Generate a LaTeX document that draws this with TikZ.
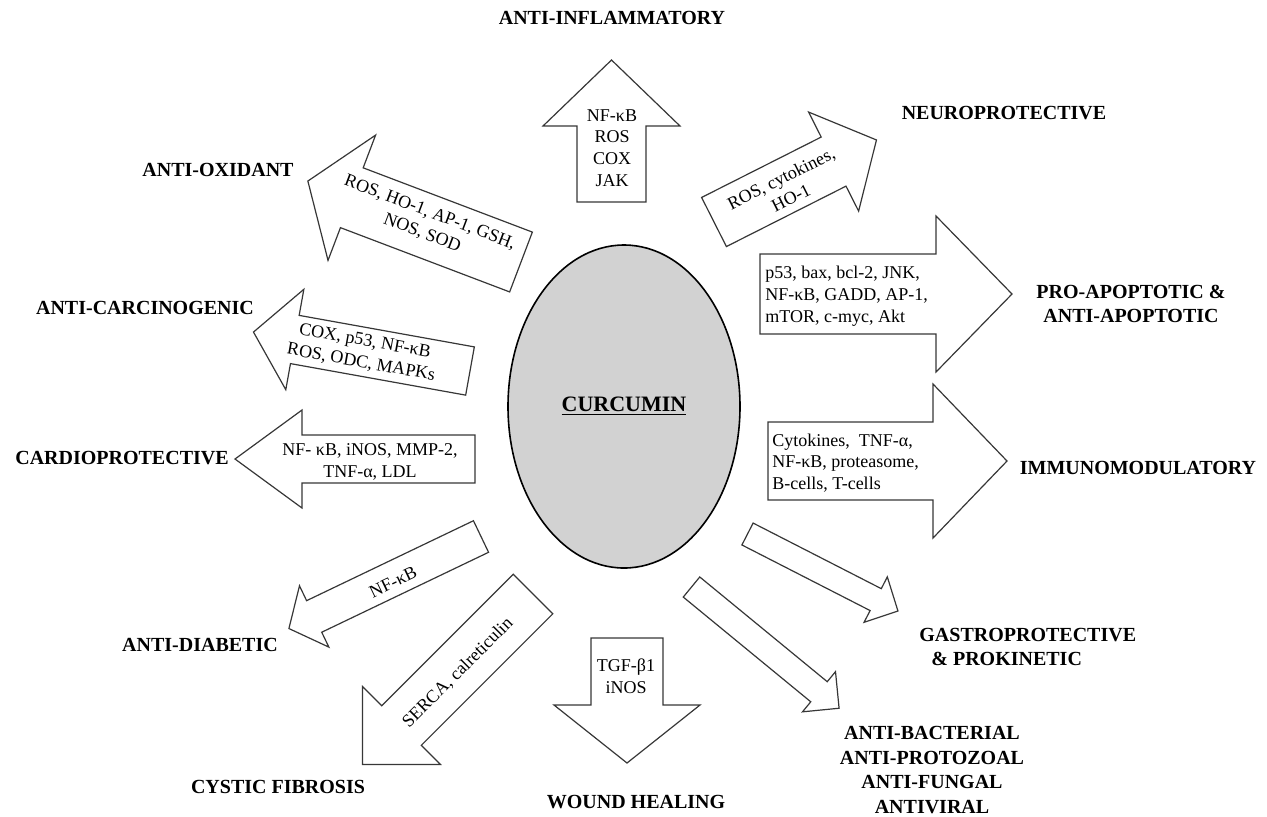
\documentclass[tikz,border=0pt]{standalone}
\usepackage{fontspec}
\setmainfont{Liberation Serif}
\usetikzlibrary{shapes.geometric}

\definecolor{cugray}{RGB}{210, 210, 210}
\definecolor{culine}{RGB}{55, 55, 55}

\begin{document}
\begin{tikzpicture}[x=0.5pt, y=-0.5pt,
    effect/.style={font=\bfseries\fontsize{10}{12.2}\selectfont, align=center, inner sep=0pt},
    target/.style={font=\fontsize{9}{10.9}\selectfont, align=center, inner sep=0pt},
    blockarrow/.style={draw=culine, fill=white, line width=0.6pt, line join=miter}]
      \useasboundingbox (0,0) rectangle (1267,816);

      % block arrows: tail centre x/y, angle, length, shaft half width, head half width, head length
      \foreach \x/\y/\a/\len/\sw/\hw/\hl in {
          611.5/202/90/142/34.5/68.5/66,       % anti-inflammatory
          714/222/26.8/182/27.5/55.5/48,        % neuroprotective
          521/262/159.2/228/32/67/47,           % anti-oxidant
          760/294/0/252/40/78/76,               % apoptotic
          470/371/169.8/220/24.5/51/42,         % anti-carcinogenic
          768/461/0/239/39/77/74,               % immunomodulatory
          475/459/180/240/24/49/67,             % cardioprotective
          747.5/534/-27.1/169/12.3/25.5/25,     % gastroprotective
          691.5/587/-39.4/191/13/26/26,         % anti-bacterial
          627/638/-90/125/36/73/58,             % wound healing
          533/594/-135/241/28/55/55,            % cystic fibrosis
          481/536.5/-154.4/213/17.5/34/28} {    % anti-diabetic
        \begin{scope}[shift={(\x,\y)}, rotate=\a]
          \draw[blockarrow] (0,-\sw) -- ({\len-\hl},-\sw) -- ({\len-\hl},-\hw) -- (\len,0)
            -- ({\len-\hl},\hw) -- ({\len-\hl},\sw) -- (0,\sw) -- cycle;
        \end{scope}
      }

      % curcumin in the middle
      \node (curcumin) [ellipse, draw=black, line width=0.8pt, fill=cugray, minimum width=116pt,
        minimum height=161.5pt, font=\bfseries\fontsize{11}{13}\selectfont] at (624,406.5) {\underline{CURCUMIN}};

      % targets written in the arrows
      \node (tinfl) [target] at (612,148) {NF-κB\\ROS\\COX\\JAK};
      \node (tneuro) [target, rotate=26.8] at (786,188) {ROS, cytokines,\\HO-1};
      \node (toxid) [target, rotate=-20.8] at (426,223) {ROS, HO-1, AP-1, GSH,\\NOS, SOD};
      \node (tapop) [target, anchor=west, align=left] at (765,296) {p53, bax, bcl-2, JNK,\\NF-κB, GADD, AP-1,\\mTOR, c-myc, Akt};
      \node (tcarc) [target, rotate=-10.2] at (363,352) {COX, p53, NF-κB\\ROS, ODC, MAPKs};
      \node (timmu) [target, anchor=west, align=left] at (772,463) {Cytokines,\ \ TNF-α,\\NF-κB, proteasome,\\B-cells, T-cells};
      \node (tcard) [target] at (370,462) {NF- κB, iNOS, MMP-2,\\TNF-α, LDL};
      \node (tdiab) [target, rotate=25.6] at (393,582) {NF-κB};
      \node (tcyst) [target, rotate=45] at (458,673) {SERCA, calreticulin};
      \node (twound) [target] at (626,676) {TGF-β1\\iNOS};

      % effects
      \node (linfl) [effect] at (612,18) {ANTI-INFLAMMATORY};
      \node (lneuro) [effect] at (1004,113) {NEUROPROTECTIVE};
      \node (loxid) [effect] at (218,170) {ANTI-OXIDANT};
      \node (lapop) [effect] at (1131,304) {PRO-APOPTOTIC \&\\ANTI-APOPTOTIC};
      \node (lcarc) [effect] at (145,308) {ANTI-CARCINOGENIC};
      \node (limmu) [effect] at (1138,468) {IMMUNOMODULATORY};
      \node (lcard) [effect] at (122,458) {CARDIOPROTECTIVE};
      \node (ldiab) [effect] at (200,645) {ANTI-DIABETIC};
      \node (lgast) [effect, anchor=west, align=left] at (919,647) {GASTROPROTECTIVE\\\hspace*{6pt}\& PROKINETIC};
      \node (lbact) [effect] at (932,770) {ANTI-BACTERIAL\\ANTI-PROTOZOAL\\ANTI-FUNGAL\\ANTIVIRAL};
      \node (lcyst) [effect] at (278,787) {CYSTIC FIBROSIS};
      \node (lwound) [effect] at (636,802) {WOUND HEALING};
    \end{tikzpicture}
\end{document}
